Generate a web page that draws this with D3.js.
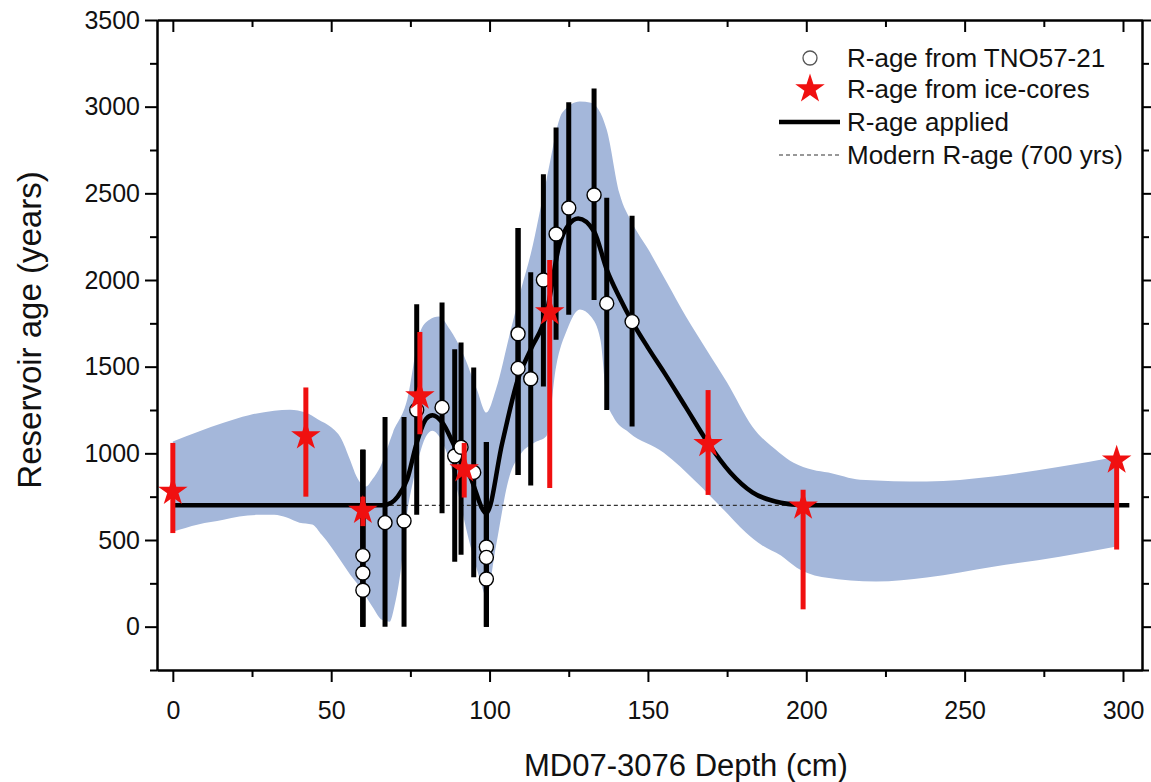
<!DOCTYPE html>
<html>
<head>
<meta charset="utf-8">
<script src="https://cdn.jsdelivr.net/npm/d3@7"></script>
<style>
 body { margin: 0; background: #fff; }
 text { font-family: "Liberation Sans", Arial, sans-serif; fill: #111; }
</style>
</head>
<body>
<script>
 /*global d3 */

 // *** R-age from ice-cores (red stars + red error bars)
 var iceDepth = [0, 42, 60, 78, 92, 119, 169, 199, 298];
 var iceAge = [780, 1100, 670, 1330, 910, 1815, 1055, 695, 960];
 var iceLo = [540, 750, 580, 1110, 745, 800, 760, 100, 445];
 var iceHi = [1060, 1380, 750, 1700, 1060, 2115, 1365, 790, 990];

 // *** R-age from TNO57-21 (open circles + black error bars)
 var tnoDepth = [60, 60, 60, 67, 73, 77, 85, 89, 91, 95, 99, 99, 99, 109, 109, 113, 117, 121, 125, 133, 137, 145];
 var tnoAge = [410, 310, 210, 600, 610, 1250, 1265, 985, 1035, 890, 460, 400, 275, 1690, 1490, 1430, 2000, 2265, 2415, 2490, 1865, 1760];
 var tnoLo = [0, 0, 0, 0, 0, 645, 655, 375, 415, 285, 0, 0, 0, 875, 875, 815, 1385, 1655, 1800, 1885, 1250, 1155];
 var tnoHi = [1020, 1020, 1020, 1210, 1210, 1860, 1870, 1600, 1640, 1495, 1065, 1065, 1065, 2300, 2300, 2045, 2610, 2880, 3025, 3105, 2475, 2370];

 // *** R-age applied (thick black curve)
 var appliedDepth = [0, 66, 69, 71, 74, 77, 80, 82, 85, 89, 94, 99, 104, 109, 113, 118, 122, 125, 128, 133, 137, 141, 145, 150, 155, 162, 169, 176, 183, 192, 197, 200, 302];
 var appliedAge = [700, 700, 715, 750, 850, 1060, 1200, 1220, 1180, 1040, 860, 655, 1060, 1430, 1600, 1810, 2200, 2320, 2355, 2280, 2060, 1900, 1760, 1610, 1470, 1265, 1060, 890, 775, 715, 703, 700, 700];

 // *** modern R-age (dashed)
 var modernDepth = [0, 300];
 var modernAge = [700, 700];

 // *** uncertainty envelope (blue band)
 var upperDepth = [0, 8, 16, 24, 32, 37, 42, 46, 50, 53, 56, 58, 61, 63, 65.5, 69.5, 74, 78, 81, 84, 87.5, 91.5, 96, 99, 102, 106.5, 110, 113, 118, 123, 128.5, 132, 137, 141, 145, 150, 156, 162, 168.5, 175, 183, 191.5, 196, 202, 207, 217, 238, 259, 280, 298];
 var upperAge = [1068, 1125, 1177, 1220, 1246, 1252, 1235, 1194, 1150, 1090, 960, 866, 808, 850, 923, 1120, 1310, 1697, 1771, 1789, 1714, 1581, 1368, 1235, 1368, 1697, 1950, 2150, 2580, 2966, 3030, 3023, 2867, 2500, 2330, 2180, 1985, 1789, 1598, 1408, 1154, 1004, 946, 906, 889, 848, 837, 866, 923, 981];
 var lowerDepth = [0, 8, 16, 21, 27, 32, 36, 40, 44, 47, 50, 53, 56, 59, 63, 66, 68.5, 70, 72, 74, 76, 78, 80, 82, 84, 86.5, 89.5, 94, 97, 99, 102, 106, 110, 114, 118, 121, 124.5, 128.5, 132, 135, 137, 139, 144, 155, 165.5, 173, 181, 186, 192, 197, 206, 222, 238, 259, 280, 298];
 var lowerAge = [548, 590, 617, 635, 645, 646, 630, 600, 590, 530, 460, 380, 300, 230, 115, 40, 29, 120, 330, 658, 850, 1000, 1100, 1130, 1100, 1004, 808, 462, 271, 173, 462, 848, 1000, 1060, 1100, 1500, 1714, 1830, 1789, 1656, 1310, 1212, 1120, 1004, 831, 692, 542, 470, 410, 340, 283, 260, 283, 346, 404, 462];

 var xTicks = [0, 50, 100, 150, 200, 250, 300];
 var xMinor = [25, 75, 125, 175, 225, 275];
 var yTicks = [0, 500, 1000, 1500, 2000, 2500, 3000, 3500];
 var yMinor = [-250, 250, 750, 1250, 1750, 2250, 2750, 3250];

 // *** begin drawing:
 var width = 1151
 var height = 782
 var plotLeft = 157, plotRight = 1142, plotTop = 20, plotBottom = 670;
 var bandColor = '#a4b7da';
 var red = '#f01010';

 var svg = d3.select('body')
  .append('svg')
  .attr('width', width)
  .attr('height', height);

 var xScale = d3.scaleLinear().domain([-5, 306]).range([plotLeft, plotRight]);
 var yScale = d3.scaleLinear().domain([-250, 3500]).range([plotBottom, plotTop]);

 var zip = function(xs, ys) { return xs.map(function(d, i) { return [d, ys[i]]; }); };

 var line = d3.line()
  .x(function(d) { return xScale(d[0]) })
  .y(function(d) { return yScale(d[1]) })
  .curve(d3.curveMonotoneX);

 // blue band: upper edge forward, lower edge backward
 var upperPath = line(zip(upperDepth, upperAge));
 var lowerPath = line(zip(lowerDepth, lowerAge).reverse());
 svg.append('path')
  .attr('d', upperPath + 'L' + lowerPath.substring(1) + 'Z')
  .attr('fill', bandColor)
  .attr('stroke', 'none');

 // dashed modern line
 svg.append('path')
  .attr('d', d3.line().x(function(d) { return xScale(d[0]) }).y(function(d) { return yScale(d[1]) })(zip(modernDepth, modernAge)))
  .attr('fill', 'none')
  .attr('stroke', '#333')
  .attr('stroke-width', 1.2)
  .attr('stroke-dasharray', '4,3');

 // black error bars
 svg.selectAll('.tnoBar')
  .data(tnoDepth)
  .enter()
  .append('line')
  .attr('class', 'tnoBar')
  .attr('x1', function(d) { return xScale(d) })
  .attr('x2', function(d) { return xScale(d) })
  .attr('y1', function(d, i) { return yScale(tnoLo[i]) })
  .attr('y2', function(d, i) { return yScale(tnoHi[i]) })
  .attr('stroke', '#000')
  .attr('stroke-width', 5);

 // applied curve
 svg.append('path')
  .attr('d', line(zip(appliedDepth, appliedAge)))
  .attr('fill', 'none')
  .attr('stroke', '#000')
  .attr('stroke-width', 4.5);

 // circles
 svg.selectAll('.tno')
  .data(tnoDepth)
  .enter()
  .append('circle')
  .attr('class', 'tno')
  .attr('cx', function(d) { return xScale(d) })
  .attr('cy', function(d, i) { return yScale(tnoAge[i]) })
  .attr('r', 7)
  .attr('fill', '#fff')
  .attr('stroke', '#000')
  .attr('stroke-width', 1.4);

 // red error bars
 svg.selectAll('.iceBar')
  .data(iceDepth)
  .enter()
  .append('line')
  .attr('class', 'iceBar')
  .attr('x1', function(d) { return xScale(d) })
  .attr('x2', function(d) { return xScale(d) })
  .attr('y1', function(d, i) { return yScale(iceLo[i]) })
  .attr('y2', function(d, i) { return yScale(iceHi[i]) })
  .attr('stroke', red)
  .attr('stroke-width', 5);

 var star = d3.symbol().type(d3.symbolStar).size(270);
 svg.selectAll('.ice')
  .data(iceDepth)
  .enter()
  .append('path')
  .attr('class', 'ice')
  .attr('d', star)
  .attr('transform', function(d, i) { return 'translate(' + xScale(d) + ',' + yScale(iceAge[i]) + ')' })
  .attr('fill', red);

 // *** axes
 function styleAxis(g) {
  g.selectAll('.domain').attr('stroke', '#000').attr('stroke-width', 2);
  g.selectAll('.tick line').attr('stroke', '#000').attr('stroke-width', 2);
  g.selectAll('.tick text').attr('font-size', 25).attr('fill', '#111')
   .attr('font-family', '"Liberation Sans", Arial, sans-serif');
 }

 // bottom
 svg.append('g').attr('transform', 'translate(0,' + plotBottom + ')')
  .call(d3.axisBottom(xScale).tickValues(xMinor).tickSize(7).tickSizeOuter(0).tickFormat(''))
  .call(styleAxis);
 svg.append('g').attr('transform', 'translate(0,' + plotBottom + ')')
  .call(d3.axisBottom(xScale).tickValues(xTicks).tickSize(12).tickSizeOuter(0).tickPadding(19).tickFormat(d3.format('d')))
  .call(styleAxis);
 // top (ticks inward)
 svg.append('g').attr('transform', 'translate(0,' + plotTop + ')')
  .call(d3.axisBottom(xScale).tickValues(xMinor).tickSize(7).tickSizeOuter(0).tickFormat(''))
  .call(styleAxis);
 svg.append('g').attr('transform', 'translate(0,' + plotTop + ')')
  .call(d3.axisBottom(xScale).tickValues(xTicks).tickSize(12).tickSizeOuter(0).tickFormat(''))
  .call(styleAxis);
 // left
 svg.append('g').attr('transform', 'translate(' + plotLeft + ',0)')
  .call(d3.axisLeft(yScale).tickValues(yMinor).tickSize(7).tickSizeOuter(0).tickFormat(''))
  .call(styleAxis);
 svg.append('g').attr('transform', 'translate(' + plotLeft + ',0)')
  .call(d3.axisLeft(yScale).tickValues(yTicks).tickSize(12).tickSizeOuter(0).tickPadding(5).tickFormat(d3.format('d')))
  .call(styleAxis);
 // right
 svg.append('g').attr('transform', 'translate(' + plotRight + ',0)')
  .call(d3.axisRight(yScale).tickValues(yMinor).tickSize(7).tickSizeOuter(0).tickFormat(''))
  .call(styleAxis);
 svg.append('g').attr('transform', 'translate(' + plotRight + ',0)')
  .call(d3.axisRight(yScale).tickValues(yTicks).tickSize(12).tickSizeOuter(0).tickFormat(''))
  .call(styleAxis);

 // axis titles
 svg.append('text')
  .attr('transform', 'translate(29,330) rotate(-90)')
  .attr('text-anchor', 'middle')
  .attr('dominant-baseline', 'central')
  .attr('font-size', 33)
  .text('Reservoir age (years)');

 svg.append('text')
  .attr('x', 686)
  .attr('y', 776)
  .attr('text-anchor', 'middle')
  .attr('font-size', 31)
  .text('MD07-3076 Depth (cm)');

 // *** legend
 var legendRows = [58, 89, 122, 155];
 var legendLabels = ['R-age from TNO57-21', 'R-age from ice-cores', 'R-age applied', 'Modern R-age (700 yrs)'];
 var legend = svg.append('g');
 legend.append('circle').attr('cx', 810).attr('cy', legendRows[0]).attr('r', 7)
  .attr('fill', '#fff').attr('stroke', '#555').attr('stroke-width', 1.3);
 legend.append('path').attr('d', star).attr('transform', 'translate(810,' + legendRows[1] + ')').attr('fill', red);
 legend.append('line').attr('x1', 779).attr('x2', 840).attr('y1', legendRows[2]).attr('y2', legendRows[2])
  .attr('stroke', '#000').attr('stroke-width', 4.5);
 legend.append('line').attr('x1', 779).attr('x2', 840).attr('y1', legendRows[3]).attr('y2', legendRows[3])
  .attr('stroke', '#333').attr('stroke-width', 1.2).attr('stroke-dasharray', '4,3');
 legend.selectAll('.lab')
  .data(legendLabels)
  .enter()
  .append('text')
  .attr('class', 'lab')
  .attr('x', 847)
  .attr('y', function(d, i) { return legendRows[i] })
  .attr('dominant-baseline', 'central')
  .attr('font-size', 26)
  .text(function(d) { return d });
</script>
</body>
</html>
